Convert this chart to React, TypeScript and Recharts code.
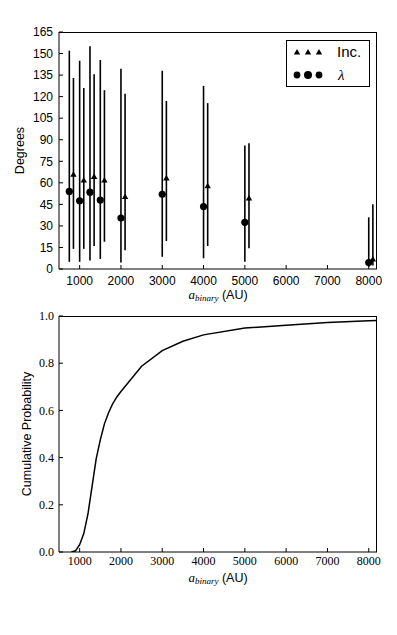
import { ScatterChart, Scatter, LineChart, Line, XAxis, YAxis, ErrorBar, Legend } from 'recharts';

// binary separation (AU) for the two series, offset so the bars do not overlap
const lambdaSep = [750, 1000, 1250, 1500, 2000, 3000, 4000, 5000, 8000];
const lambdaVal = [54, 47.5, 53.5, 48, 35.5, 52, 43.5, 32.5, 4.5];
const lambdaLow = [5, 5, 6, 7, 4.5, 8.5, 7.5, 5, 1.5];
const lambdaHigh = [152, 145, 155, 145.5, 139.5, 138, 127.5, 86, 36];

const incSep = [850, 1100, 1350, 1600, 2100, 3100, 4100, 5100, 8100];
const incVal = [66, 62, 64.5, 62, 50.5, 63.5, 58, 49.5, 7];
const incLow = [14, 14, 16, 19, 13, 19.5, 16, 14.5, 2.5];
const incHigh = [133, 126, 135.5, 124.5, 122, 117, 115.5, 87.5, 45];

const cdfSep = [800, 900, 1000, 1100, 1200, 1300, 1400, 1500, 1600, 1700, 1800, 1900, 2000, 2500, 3000, 3500, 4000, 5000, 6000, 7000, 8000, 8200];
const cdfProb = [0, 0.005, 0.031, 0.078, 0.16, 0.277, 0.395, 0.475, 0.543, 0.59, 0.628, 0.657, 0.68, 0.787, 0.853, 0.893, 0.92, 0.949, 0.961, 0.972, 0.98, 0.981];

const sepTicks = [1000, 2000, 3000, 4000, 5000, 6000, 7000, 8000];
const degTicks = [0, 15, 30, 45, 60, 75, 90, 105, 120, 135, 150, 165];
const probTicks = [0, 0.2, 0.4, 0.6, 0.8, 1.0];

const sepDomain = [500, 8200];

const lambdaData = lambdaSep.map((a, i) => ({
  a,
  v: lambdaVal[i],
  err: [lambdaVal[i] - lambdaLow[i], lambdaHigh[i] - lambdaVal[i]],
}));
const incData = incSep.map((a, i) => ({
  a,
  v: incVal[i],
  err: [incVal[i] - incLow[i], incHigh[i] - incVal[i]],
}));
const cdfData = cdfSep.map((a, i) => ({ a, p: cdfProb[i] }));

const SANS = '"Liberation Sans", Arial, sans-serif';
const SERIF = '"Liberation Serif", "Times New Roman", serif';

const sansTick = { fill: '#000', fontSize: 12, fontFamily: SANS };
const serifTick = { fill: '#000', fontSize: 12, fontFamily: SERIF };
const frame = { stroke: '#000', strokeWidth: 1 };

// plot boxes in page pixels, used for the chart margins and the top/right frame edges
const W = 397;
const box1 = { top: 32, bottom: 269, left: 59, right: 377 };
const box2 = { top: 316, bottom: 552, left: 59, right: 377 };
const chart2Top = 300;

const Circle = (props: any) => <circle cx={props.cx} cy={props.cy} r={3.6} fill="#000" />;
const Triangle = (props: any) => {
  const { cx, cy } = props;
  return <polygon points={`${cx - 3.2},${cy + 2.6} ${cx + 3.2},${cy + 2.6} ${cx},${cy - 3}`} fill="#000" />;
};

const ABinaryLabel = ({ viewBox, dy }: any) => {
  const cx = viewBox.x + viewBox.width / 2;
  return (
    <text x={cx} y={viewBox.y + dy} textAnchor="middle" fill="#000">
      <tspan fontFamily={SERIF} fontStyle="italic" fontSize={13}>a</tspan>
      <tspan fontFamily={SERIF} fontStyle="italic" fontSize={9} dy={2}>binary</tspan>
      <tspan fontFamily={SANS} fontSize={12.5} dy={-2}> (AU)</tspan>
    </text>
  );
};

const VertLabel = ({ viewBox, text, x }: any) => {
  const cy = viewBox.y + viewBox.height / 2;
  return (
    <text x={x} y={cy} transform={`rotate(-90 ${x} ${cy})`} textAnchor="middle" dominantBaseline="central" fontFamily={SANS} fontSize={12.5} fill="#000">
      {text}
    </text>
  );
};

const LegendBox = () => (
  <svg width={84} height={47} style={{ display: 'block' }}>
    <rect x={0.5} y={0.5} width={83} height={46} fill="#fff" stroke="#000" strokeWidth={1} />
    {[11, 22, 33].map((x) => (
      <Triangle key={'t' + x} cx={x} cy={12} />
    ))}
    <text x={51} y={17} fontFamily={SANS} fontSize={15} fill="#000">Inc.</text>
    {[11, 22, 33].map((x, i) => (
      <circle key={'c' + x} cx={x} cy={35} r={i === 1 ? 4 : 3.4} fill="#000" />
    ))}
    <text x={52} y={40} fontFamily={SERIF} fontStyle="italic" fontSize={15} fill="#000">λ</text>
  </svg>
);

// top and right edges of an axes box
const FrameEdges = ({ box }: any) => (
  <div
    style={{
      position: 'absolute',
      left: box.left,
      top: box.top,
      width: box.right - box.left,
      height: box.bottom - box.top,
      borderTop: '1px solid #000',
      borderRight: '1px solid #000',
      boxSizing: 'border-box',
      pointerEvents: 'none',
      zIndex: 5,
    }}
  />
);

export default function App() {
  return (
    <div style={{ position: 'absolute', left: 0, top: 0, width: 397, height: 635, background: '#fff' }}>
      <div style={{ position: 'absolute', left: 0, top: 0 }}>
        <ScatterChart width={W} height={306} margin={{ top: box1.top, right: W - box1.right, left: 0, bottom: 306 - box1.bottom - 31 }}>
          <XAxis
            type="number"
            dataKey="a"
            domain={sepDomain}
            ticks={sepTicks}
            interval={0}
            allowDataOverflow
            height={31}
            axisLine={frame}
            tickLine={frame}
            tickSize={-4}
            tickMargin={11}
            tick={sansTick}
            label={(p: any) => <ABinaryLabel {...p} dy={30} />}
          />
          <YAxis
            type="number"
            dataKey="v"
            domain={[0, 165]}
            ticks={degTicks}
            interval={0}
            allowDataOverflow
            width={box1.left}
            axisLine={frame}
            tickLine={frame}
            tickSize={-4}
            tickMargin={10}
            tick={sansTick}
            label={(p: any) => <VertLabel {...p} text="Degrees" x={20} />}
          />
          <Legend
            layout="horizontal"
            verticalAlign="middle"
            align="center"
            wrapperStyle={{ position: 'absolute', top: 40, left: 286, width: 84, height: 47 }}
            content={() => <LegendBox />}
          />
          <Scatter name="λ" data={lambdaData} shape={Circle} isAnimationActive={false}>
            <ErrorBar dataKey="err" direction="y" width={0} stroke="#000" strokeWidth={1.6} />
          </Scatter>
          <Scatter name="Inc." data={incData} shape={Triangle} isAnimationActive={false}>
            <ErrorBar dataKey="err" direction="y" width={0} stroke="#000" strokeWidth={1.6} />
          </Scatter>
        </ScatterChart>
      </div>
      <div style={{ position: 'absolute', left: 0, top: chart2Top }}>
        <LineChart
          width={W}
          height={300}
          data={cdfData}
          margin={{ top: box2.top - chart2Top, right: W - box2.right, left: 0, bottom: 300 - (box2.bottom - chart2Top) - 31 }}
        >
          <XAxis
            type="number"
            dataKey="a"
            domain={sepDomain}
            ticks={sepTicks}
            interval={0}
            allowDataOverflow
            height={31}
            axisLine={frame}
            tickLine={frame}
            tickSize={-4}
            tickMargin={8}
            tick={serifTick}
            label={(p: any) => <ABinaryLabel {...p} dy={30} />}
          />
          <YAxis
            type="number"
            domain={[0, 1]}
            ticks={probTicks}
            interval={0}
            allowDataOverflow
            width={box2.left}
            axisLine={frame}
            tickLine={frame}
            tickSize={-4}
            tickMargin={9}
            tick={serifTick}
            tickFormatter={(v: number) => v.toFixed(1)}
            label={(p: any) => <VertLabel {...p} text="Cumulative Probability" x={27} />}
          />
          <Line type="linear" dataKey="p" stroke="#000" strokeWidth={1.5} dot={false} isAnimationActive={false} />
        </LineChart>
      </div>
      <FrameEdges box={box1} />
      <FrameEdges box={box2} />
    </div>
  );
}
